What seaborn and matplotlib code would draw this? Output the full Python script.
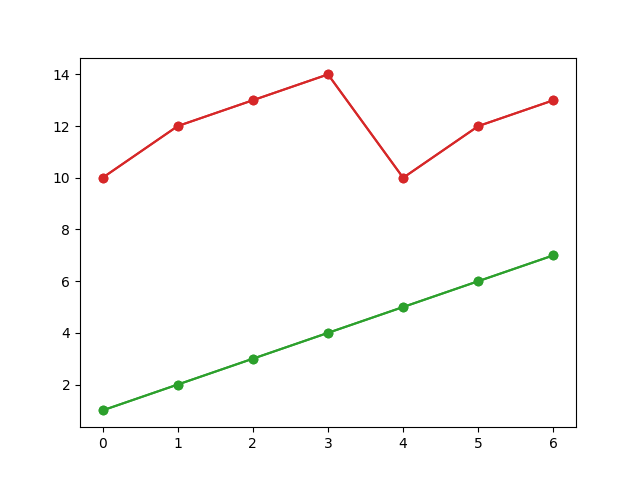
import matplotlib
matplotlib.use('Agg')
import matplotlib.pyplot as plt
import seaborn as sns

x = [0, 1, 2, 3, 4, 5, 6]
red_values = [10, 12, 13, 14, 10, 12, 13]
green_values = [1, 2, 3, 4, 5, 6, 7]

fig, ax = plt.subplots(figsize=(6.4, 4.8), dpi=100)

# both series drawn twice, which gives the slightly heavier look of the reference
for _ in range(2):
    sns.lineplot(x=x, y=red_values, ax=ax, color='tab:red', marker='o',
                 markersize=6, markeredgecolor='tab:red', markeredgewidth=1)
    sns.lineplot(x=x, y=green_values, ax=ax, color='tab:green', marker='o',
                 markersize=6, markeredgecolor='tab:green', markeredgewidth=1)

ax.set_xlabel('')
ax.set_ylabel('')
fig.savefig('out.png')
